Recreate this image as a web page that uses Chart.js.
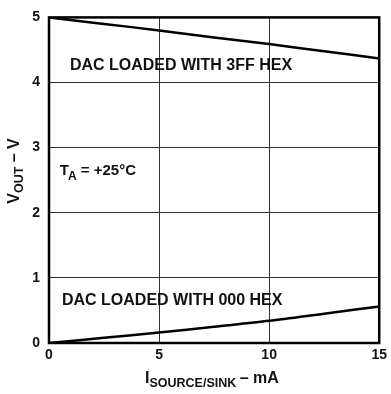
<!DOCTYPE html>
<html><head><meta charset="utf-8">
<script src="https://cdn.jsdelivr.net/npm/chart.js@4/dist/chart.umd.min.js"></script>
<style>html,body{margin:0;padding:0;background:#fff}#wrap{width:391px;height:394px}</style>
</head><body><div id="wrap"><canvas id="c" width="391" height="394"></canvas></div>
<script>
const currents = [0, 2.5, 5, 7.5, 10, 12.5, 15];
const vout3FF = [5.0, 4.9, 4.8, 4.69, 4.59, 4.48, 4.37];
const vout000 = [0.0, 0.08, 0.16, 0.25, 0.34, 0.45, 0.56];
const xTicks = [0, 5, 10, 15];
const yTicks = [0, 1, 2, 3, 4, 5];
const label3FF = "DAC LOADED WITH 3FF HEX";
const label000 = "DAC LOADED WITH 000 HEX";

const FONT = '"Liberation Sans", Arial, sans-serif';
const F = (s) => 'bold ' + s + 'px ' + FONT;

const annot = {
  id: 'annot',
  afterDatasetsDraw(chart) {
    const {ctx, chartArea: a, scales: {x, y}} = chart;
    ctx.save();
    ctx.strokeStyle = '#000'; ctx.lineWidth = 2.5;
    ctx.strokeRect(a.left, a.top, a.right - a.left, a.bottom - a.top);
    ctx.fillStyle = '#111';
    ctx.textBaseline = 'alphabetic';
    ctx.textAlign = 'left';
    // series labels
    ctx.font = F(16);
    const fit = (t, w) => { const m = ctx.measureText(t).width; return m; };
    ctx.fillText(label3FF, x.getPixelForValue(0.95), y.getPixelForValue(4.19));
    ctx.fillText(label000, x.getPixelForValue(0.59), y.getPixelForValue(0.58));
    // T_A
    let px = x.getPixelForValue(0.49), py = y.getPixelForValue(2.58);
    ctx.font = F(15);
    ctx.fillText('T', px, py);
    let w = ctx.measureText('T').width;
    ctx.font = F(12);
    ctx.fillText('A', px + w - 1, py + 5);
    let w2 = ctx.measureText('A').width;
    ctx.font = F(15);
    ctx.fillText(' = +25°C', px + w - 1 + w2, py);
    // x title
    ctx.font = F(16); const wI = ctx.measureText('I').width;
    ctx.font = F(12.5); const wS = ctx.measureText('SOURCE/SINK').width;
    ctx.font = F(16); const wM = ctx.measureText(' – mA').width;
    let tx = 145, ty = 383;
    ctx.fillText('I', tx, ty);
    ctx.font = F(12.5); ctx.fillText('SOURCE/SINK', tx + wI, ty + 4);
    ctx.font = F(16); ctx.fillText(' – mA', tx + wI + wS - 1, ty);
    // y title
    ctx.translate(18.5, 171);
    ctx.rotate(-Math.PI / 2);
    ctx.font = F(16); const wV = ctx.measureText('V').width;
    ctx.font = F(12.5); const wO = ctx.measureText('OUT').width;
    ctx.font = F(16); const wT = ctx.measureText(' – V').width;
    const total = wV + wO + wT;
    let sx = -total / 2;
    ctx.fillText('V', sx, 0);
    ctx.font = F(12.5); ctx.fillText('OUT', sx + wV, 4);
    ctx.font = F(16); ctx.fillText(' – V', sx + wV + wO, 0);
    ctx.restore();
  }
};

const ds = (d) => ({
  data: currents.map((c, i) => ({x: c, y: d[i]})),
  borderColor: '#000', borderWidth: 2.5, pointRadius: 0, tension: 0.3, fill: false
});

new Chart(document.getElementById('c'), {
  type: 'line',
  data: { datasets: [ds(vout3FF), ds(vout000)] },
  options: {
    responsive: false, animation: false, devicePixelRatio: 1,
    layout: { padding: { top: 10, right: 8, left: 0, bottom: 0 } },
    plugins: { legend: { display: false }, tooltip: { enabled: false } },
    scales: {
      x: {
        type: 'linear', min: 0, max: 15,
        afterBuildTicks: s => { s.ticks = xTicks.map(v => ({value: v})); },
        afterFit: s => { s.height = 51; },
        grid: { color: '#333', lineWidth: 1, drawTicks: false },
        border: { display: false },
        ticks: { color: '#111', padding: 4, font: { family: FONT, weight: 'bold', size: 14 }, maxRotation: 0 }
      },
      y: {
        type: 'linear', min: 0, max: 5,
        afterBuildTicks: s => { s.ticks = yTicks.map(v => ({value: v})); },
        afterFit: s => { s.width = 49; },
        grid: { color: '#333', lineWidth: 1, drawTicks: false },
        border: { display: false },
        ticks: { color: '#111', padding: 9, font: { family: FONT, weight: 'bold', size: 14 } }
      }
    }
  },
  plugins: [annot]
});
</script></body></html>
